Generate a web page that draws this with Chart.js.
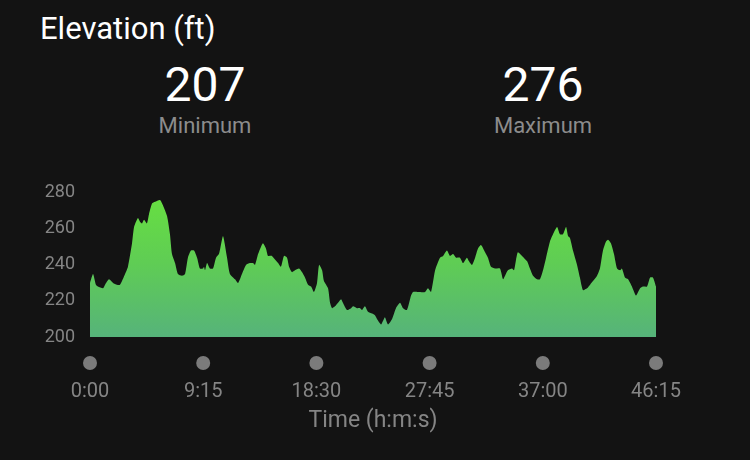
<!DOCTYPE html>
<html>
<head>
<meta charset="utf-8">
<script src="https://cdn.jsdelivr.net/npm/chart.js@4"></script>
<style>
    html, body {
        margin: 0;
        padding: 0;
        width: 750px;
        height: 460px;
        background: #131313;
        overflow: hidden;
        font-family: Roboto, "Noto Sans", sans-serif;
    }
    .title {
        position: absolute;
        left: 40px;
        top: 10px;
        font-size: 31px;
        color: #fff;
    }
    .stat {
        position: absolute;
        top: 57px;
        width: 200px;
        text-align: center;
    }
    .stat .value {
        font-size: 48px;
        color: #fff;
        line-height: 56px;
    }
    .stat .name {
        font-size: 22px;
        color: #8c8c8c;
        line-height: 25px;
    }
    #wrap {
        position: absolute;
        left: 0;
        top: 167px;
        width: 750px;
        height: 293px;
    }
</style>
</head>
<body>
<div class="title">Elevation (ft)</div>
<div class="stat" style="left: 105px;">
    <div class="value" id="minValue"></div>
    <div class="name">Minimum</div>
</div>
<div class="stat" style="left: 443px;">
    <div class="value" id="maxValue"></div>
    <div class="name">Maximum</div>
</div>
<div id="wrap"><canvas id="chart"></canvas></div>
<script>
    // elapsed time in seconds and elevation in feet
    const elapsedSec = [
        0, 15, 29, 39, 64, 74, 93, 113, 132, 147,
        172, 186, 206, 216, 235, 245, 255, 265, 279, 289,
        304, 319, 343, 358, 378, 392, 402, 417, 431, 451,
        466, 480, 495, 510, 525, 539, 554, 559, 564, 574,
        588, 603, 618, 632, 647, 652, 657, 672, 686, 711,
        726, 745, 765, 784, 799, 809, 824, 838, 848, 863,
        873, 892, 907, 922, 936, 951, 966, 976, 990, 1005,
        1025, 1039, 1054, 1069, 1084, 1098, 1113, 1123, 1138, 1147,
        1167, 1177, 1187, 1201, 1216, 1231, 1240, 1260, 1280, 1290,
        1309, 1324, 1334, 1348, 1363, 1383, 1397, 1407, 1427, 1437,
        1446, 1461, 1481, 1500, 1520, 1535, 1554, 1574, 1584, 1608,
        1643, 1657, 1672, 1692, 1716, 1731, 1750, 1765, 1780, 1795,
        1814, 1829, 1848, 1858, 1873, 1888, 1902, 1917, 1937, 1951,
        1966, 1986, 2010, 2025, 2035, 2049, 2069, 2079, 2089, 2098,
        2118, 2143, 2157, 2172, 2192, 2206, 2221, 2236, 2255, 2270,
        2290, 2304, 2319, 2334, 2344, 2353, 2368, 2388, 2402, 2417,
        2437, 2452, 2466, 2486, 2500, 2515, 2530, 2540, 2554, 2569,
        2584, 2599, 2608, 2623, 2638, 2657, 2677, 2697, 2711, 2731,
        2746, 2760, 2775,
    ];
    const elevationFt = [
        230, 235, 229, 228, 227, 229, 232, 230, 229, 229,
        235, 239, 252, 261, 266, 264, 263, 265, 263, 268,
        274, 275, 276, 273, 267, 257, 246, 241, 235, 234,
        235, 244, 248, 248, 244, 238, 238, 239, 237, 241,
        238, 238, 244, 246, 254, 256, 254, 244, 235, 232,
        230, 235, 240, 241, 241, 240, 246, 250, 252, 249,
        245, 245, 243, 241, 239, 245, 244, 239, 236, 237,
        238, 236, 233, 229, 228, 225, 230, 240, 237, 231,
        227, 219, 216, 217, 219, 221, 219, 215, 216, 217,
        216, 216, 215, 217, 214, 213, 212, 210, 207, 209,
        211, 207, 210, 216, 219, 216, 215, 223, 225, 225,
        225, 227, 225, 237, 244, 245, 248, 245, 246, 244,
        244, 241, 244, 242, 240, 244, 249, 251, 247, 244,
        239, 238, 238, 232, 234, 237, 238, 237, 243, 247,
        245, 242, 238, 234, 232, 232, 237, 244, 253, 257,
        261, 257, 257, 261, 256, 255, 248, 240, 233, 226,
        227, 229, 231, 234, 238, 248, 253, 254, 252, 246,
        238, 237, 238, 233, 232, 228, 223, 227, 228, 228,
        233, 233, 228,
    ];
    const yTicks = [200, 220, 240, 260, 280];
    const xTickSec = [0, 555, 1110, 1665, 2220, 2775];
    const minElevation = 207;
    const maxElevation = 276;

    document.getElementById("minValue").textContent = minElevation;
    document.getElementById("maxValue").textContent = maxElevation;

    const gray = "#858585";

    function formatTime(sec) {
        const m = Math.floor(sec / 60);
        const s = sec % 60;
        return m + ":" + String(s).padStart(2, "0");
    }

    function fillGradient(ctx) {
        const area = ctx.chart.chartArea;
        if (!area) return "#5fcf5a";
        const g = ctx.chart.ctx.createLinearGradient(0, area.top, 0, area.bottom);
        g.addColorStop(0, "#67e040");
        g.addColorStop(0.5, "#5fcc55");
        g.addColorStop(1, "#56b37a");
        return g;
    }

    // grey dots under each time tick
    const tickDots = {
        id: "tickDots",
        afterDraw(chart) {
            const x = chart.scales.x;
            const c = chart.ctx;
            c.save();
            c.fillStyle = "#7b7b7b";
            x.ticks.forEach((t) => {
                c.beginPath();
                c.arc(x.getPixelForValue(t.value), chart.chartArea.bottom + 26, 7, 0, Math.PI * 2);
                c.fill();
            });
            c.restore();
        },
    };

    const points = elapsedSec.map((t, i) => ({ x: t, y: elevationFt[i] }));

    new Chart(document.getElementById("chart"), {
        type: "line",
        data: {
            datasets: [
                {
                    data: points,
                    fill: "start",
                    backgroundColor: fillGradient,
                    borderWidth: 0,
                    pointRadius: 0,
                    tension: 0.2,
                },
            ],
        },
        options: {
            responsive: true,
            maintainAspectRatio: false,
            animation: false,
            layout: {
                padding: { top: 18, right: 94, bottom: 0, left: 0 },
            },
            plugins: {
                legend: { display: false },
                tooltip: { enabled: false },
            },
            scales: {
                x: {
                    type: "linear",
                    min: 0,
                    max: 2775,
                    afterBuildTicks: (scale) => {
                        scale.ticks = xTickSec.map((v) => ({ value: v }));
                    },
                    afterFit: (scale) => {
                        scale.height = 123;
                    },
                    grid: { display: false, drawTicks: false },
                    border: { display: false },
                    ticks: {
                        color: gray,
                        padding: 43,
                        maxRotation: 0,
                        font: { family: "Roboto", size: 20 },
                        callback: (v) => formatTime(v),
                    },
                    title: {
                        display: true,
                        text: "Time (h:m:s)",
                        color: gray,
                        font: { family: "Roboto", size: 23 },
                        padding: { top: 4, bottom: 25 },
                    },
                },
                y: {
                    min: 200,
                    max: 280,
                    afterBuildTicks: (scale) => {
                        scale.ticks = yTicks.map((v) => ({ value: v }));
                    },
                    afterFit: (scale) => {
                        scale.width = 90;
                    },
                    grid: { display: false, drawTicks: false },
                    border: { display: false },
                    ticks: {
                        color: gray,
                        padding: 15,
                        font: { family: "Roboto", size: 18 },
                    },
                },
            },
        },
        plugins: [tickDots],
    });
</script>
</body>
</html>
